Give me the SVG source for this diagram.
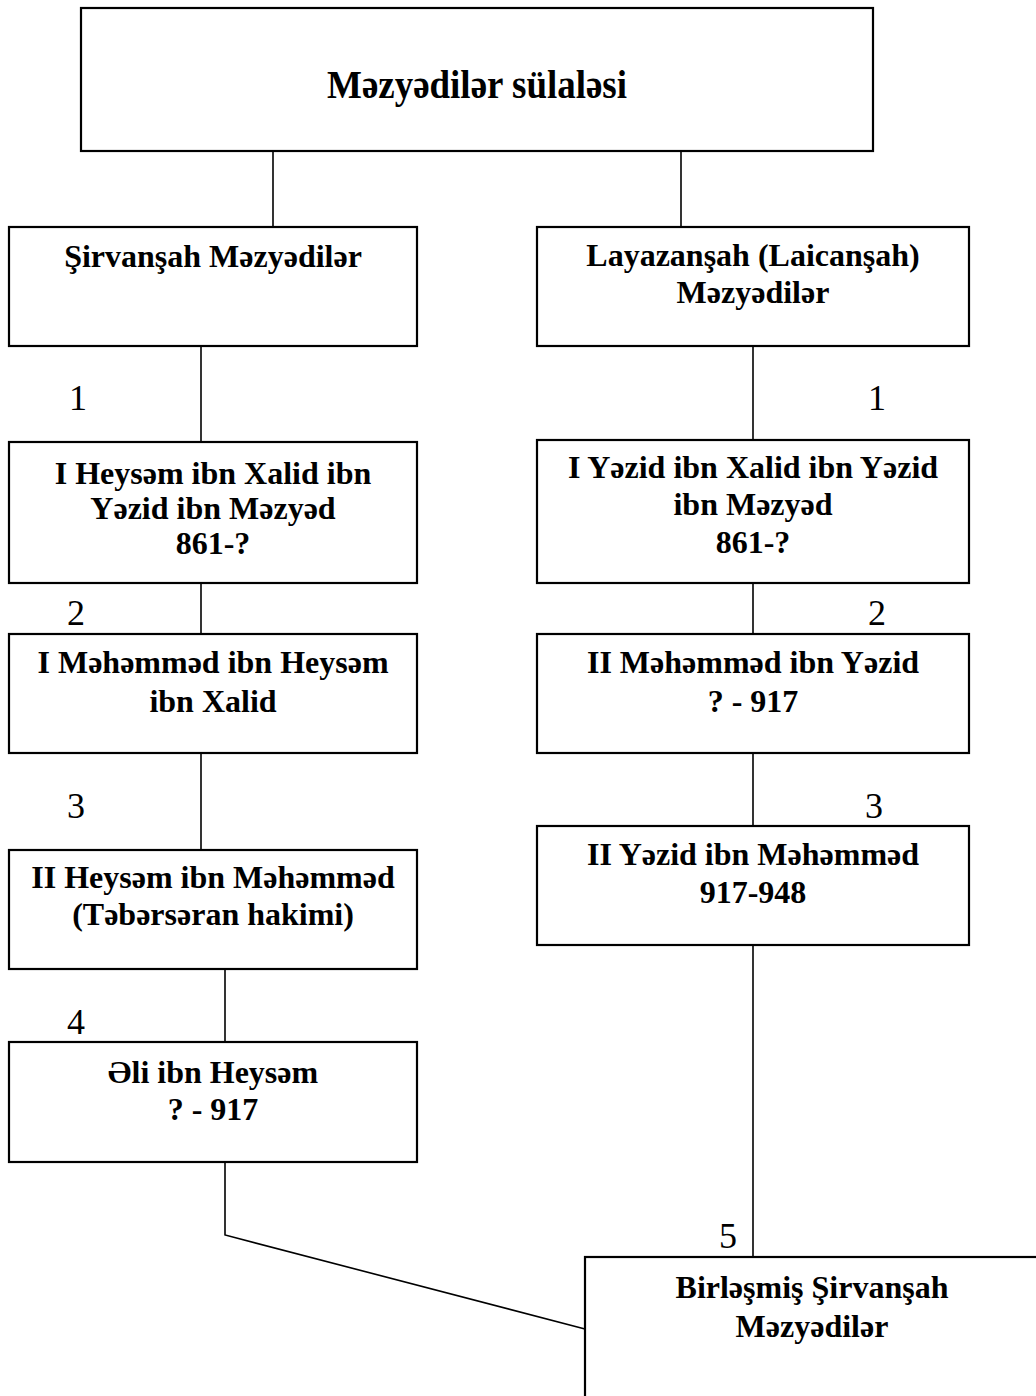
<svg xmlns="http://www.w3.org/2000/svg" width="1036" height="1396" viewBox="0 0 1036 1396">
<style>
.box{fill:#fff;stroke:#000;stroke-width:2.2}
.t{font-family:"Liberation Serif","Times New Roman",serif;font-weight:bold;font-size:32px;text-anchor:middle;fill:#000}
.n{font-family:"Liberation Serif","Times New Roman",serif;font-size:36px;text-anchor:middle;fill:#000}
.c{fill:none;stroke:#000;stroke-width:1.6}
</style>
<rect width="1036" height="1396" fill="#fff"/>
<g id="connectors">
<path class="c" d="M273 151V227"/>
<path class="c" d="M681 151V227"/>
<path class="c" d="M201 346V442"/>
<path class="c" d="M753 346V440"/>
<path class="c" d="M201 583V634"/>
<path class="c" d="M753 583V634"/>
<path class="c" d="M201 753V850"/>
<path class="c" d="M753 753V826"/>
<path class="c" d="M225 969V1042"/>
<path class="c" d="M225 1162V1235L585 1329"/>
<path class="c" d="M753 945V1257"/>
</g>
<g id="labels">
<text class="n" x="78" y="410">1</text>
<text class="n" x="877" y="410">1</text>
<text class="n" x="76" y="625">2</text>
<text class="n" x="877" y="625">2</text>
<text class="n" x="76" y="818">3</text>
<text class="n" x="874" y="818">3</text>
<text class="n" x="76" y="1034">4</text>
<text class="n" x="728" y="1248">5</text>
</g>
<g id="n0"><rect class="box" x="81" y="8" width="792" height="143"/>
<text class="t" x="477" y="98" style="font-size:40px" textLength="300" lengthAdjust="spacingAndGlyphs">Məzyədilər sülaləsi</text></g>
<g id="l1"><rect class="box" x="9" y="227" width="408" height="119"/>
<text class="t" x="213" y="267">Şirvanşah Məzyədilər</text></g>
<g id="r1"><rect class="box" x="537" y="227" width="432" height="119"/>
<text class="t" x="753" y="266">Layazanşah (Laicanşah)</text>
<text class="t" x="753" y="303">Məzyədilər</text></g>
<g id="l2"><rect class="box" x="9" y="442" width="408" height="141"/>
<text class="t" x="213" y="484">I Heysəm ibn Xalid ibn</text>
<text class="t" x="213" y="519">Yəzid ibn Məzyəd</text>
<text class="t" x="213" y="554">861-?</text></g>
<g id="r2"><rect class="box" x="537" y="440" width="432" height="143"/>
<text class="t" x="753" y="478">I Yəzid ibn Xalid ibn Yəzid</text>
<text class="t" x="753" y="515">ibn Məzyəd</text>
<text class="t" x="753" y="553">861-?</text></g>
<g id="l3"><rect class="box" x="9" y="634" width="408" height="119"/>
<text class="t" x="213" y="673">I Məhəmməd ibn Heysəm</text>
<text class="t" x="213" y="712">ibn Xalid</text></g>
<g id="r3"><rect class="box" x="537" y="634" width="432" height="119"/>
<text class="t" x="753" y="673">II Məhəmməd ibn Yəzid</text>
<text class="t" x="753" y="712">? - 917</text></g>
<g id="l4"><rect class="box" x="9" y="850" width="408" height="119"/>
<text class="t" x="213" y="888">II Heysəm ibn Məhəmməd</text>
<text class="t" x="213" y="925">(Təbərsəran hakimi)</text></g>
<g id="r4"><rect class="box" x="537" y="826" width="432" height="119"/>
<text class="t" x="753" y="865">II Yəzid ibn Məhəmməd</text>
<text class="t" x="753" y="903">917-948</text></g>
<g id="l5"><rect class="box" x="9" y="1042" width="408" height="120"/>
<text class="t" x="213" y="1083">Əli ibn Heysəm</text>
<text class="t" x="213" y="1120">? - 917</text></g>
<g id="b"><rect class="box" x="585" y="1257" width="460" height="150"/>
<text class="t" x="812" y="1298">Birləşmiş Şirvanşah</text>
<text class="t" x="812" y="1337">Məzyədilər</text></g>
</svg>
